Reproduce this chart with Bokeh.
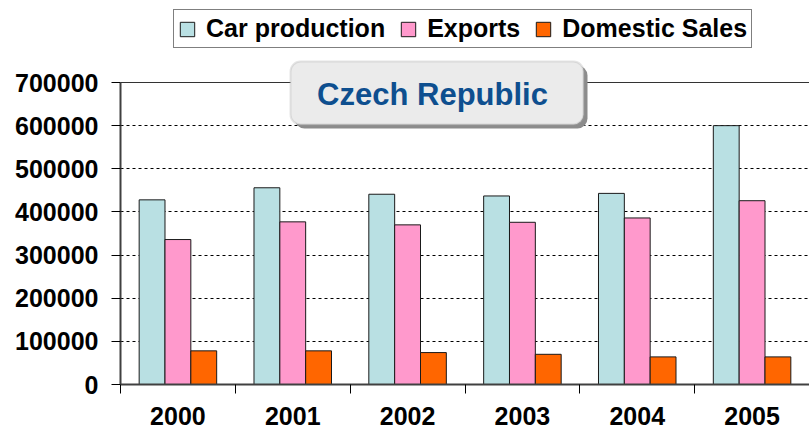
from bokeh.plotting import figure
from bokeh.models import (ColumnDataSource, FixedTicker, Legend, LegendItem, Label, Span,
                          Range1d, NumeralTickFormatter, BoxAnnotation)
from bokeh.transform import dodge
from bokeh.embed import file_html
from bokeh.resources import INLINE

# ---- data ----
years = ["2000", "2001", "2002", "2003", "2004", "2005"]
car_production = [428000, 456000, 441000, 437000, 443000, 600000]
exports = [336000, 377000, 370000, 376000, 386000, 426000]
domestic_sales = [78000, 78000, 74000, 70000, 64000, 64000]
series_names = ["Car production", "Exports", "Domestic Sales"]
series_colors = ["#B9E0E3", "#FF99CC", "#FF6600"]
y_ticks = [0, 100000, 200000, 300000, 400000, 500000, 600000, 700000]
title_text = "Czech Republic"

FONT = "Liberation Sans"
W, H = 809, 435
BL, BT, BB, BR = 120, 0, 51, 0
frame_h = H - BT - BB          # frame spans from top of figure to the x axis
top_tick_px = 82               # pixel row of the highest tick (from the figure top)
y_end = y_ticks[-1] * frame_h / (frame_h - top_tick_px)

centers = [i + 0.5 for i in range(len(years))]
src = ColumnDataSource(dict(x=centers, car=car_production, exp=exports, dom=domestic_sales))

p = figure(width=W, height=H, output_backend="svg", toolbar_location=None,
           x_range=Range1d(0, len(years)), y_range=Range1d(y_ticks[0], y_end),
           min_border_left=BL, min_border_right=BR, min_border_top=BT, min_border_bottom=BB)
p.background_fill_color = "white"
p.border_fill_color = "white"
p.outline_line_color = None

# grid
p.xgrid.visible = False
p.ygrid.ticker = FixedTicker(ticks=y_ticks)
p.ygrid.grid_line_color = "black"
p.ygrid.grid_line_dash = "3 3"
p.ygrid.grid_line_width = 1
p.add_layout(Span(location=y_ticks[-1], dimension="width", line_color="#333333", line_width=1))

# bars
bw = 0.225
cols = ["car", "exp", "dom"]
offsets = [-bw, 0, bw]
renderers = []
for c, off, col in zip(cols, offsets, series_colors):
    r = p.vbar(x=dodge("x", off), top=c, width=bw, source=src,
               fill_color=col, line_color="#1a1a1a", line_width=1)
    renderers.append(r)

# y axis
ya = p.yaxis[0]
ya.ticker = FixedTicker(ticks=y_ticks)
ya.bounds = (y_ticks[0], y_ticks[-1])
ya.formatter = NumeralTickFormatter(format="0")
ya.axis_line_color = "#404040"
ya.axis_line_width = 2
ya.major_tick_out = 9
ya.major_tick_in = 0
ya.major_tick_line_color = "black"
ya.minor_tick_line_color = None
ya.major_label_standoff = 13
ya.major_label_text_font = FONT
ya.major_label_text_font_style = "bold"
ya.major_label_text_font_size = "25px"
ya.major_label_text_color = "black"

# x axis
xa = p.xaxis[0]
xa.ticker = FixedTicker(ticks=centers, minor_ticks=list(range(len(years) + 1)))
xa.major_label_overrides = {c: y for c, y in zip(centers, years)}
xa.axis_line_color = "#404040"
xa.axis_line_width = 2
xa.major_tick_out = 0
xa.major_tick_in = 0
xa.minor_tick_out = 9
xa.minor_tick_in = 0
xa.minor_tick_line_color = "black"
xa.major_label_standoff = 13
xa.major_label_text_font = FONT
xa.major_label_text_font_style = "bold"
xa.major_label_text_font_size = "25px"
xa.major_label_text_color = "black"

# legend (inside the upper, empty part of the frame)
legend = Legend(items=[LegendItem(label=n, renderers=[r]) for n, r in zip(series_names, renderers)],
                orientation="horizontal", location=(53, frame_h - 48))
legend.border_line_color = "black"
legend.border_line_width = 1
legend.background_fill_color = "white"
legend.background_fill_alpha = 1
legend.padding = 4
legend.spacing = 14
legend.label_standoff = 10
legend.glyph_width = 18
legend.glyph_height = 18
legend.label_text_font = FONT
legend.label_text_font_style = "bold"
legend.label_text_font_size = "25px"
legend.label_text_color = "black"
legend.margin = 0
p.add_layout(legend, "center")

# title box with shadow (screen units, relative to frame bottom-left)
bl, br, bt, bb = 170, 463, frame_h - 61, frame_h - 124
shadow = BoxAnnotation(left=bl + 4, right=br + 4, top=bt - 4, bottom=bb - 4,
                       left_units="screen", right_units="screen",
                       top_units="screen", bottom_units="screen",
                       fill_color="#8C8C8C", fill_alpha=1, line_color=None, border_radius=10)
box = BoxAnnotation(left=bl, right=br, top=bt, bottom=bb,
                    left_units="screen", right_units="screen",
                    top_units="screen", bottom_units="screen",
                    fill_color="#EBEBEB", fill_alpha=1, line_color="#A8A8A8", line_width=2,
                    border_radius=10)
title = Label(x=312, y=frame_h - 94, x_units="screen", y_units="screen", text=title_text,
              text_font=FONT, text_font_style="bold", text_font_size="31px",
              text_align="center", text_baseline="alphabetic", text_color="#0E4F8F")
p.add_layout(shadow)
p.add_layout(box)
p.add_layout(title)

open("out.html", "w").write(file_html(p, INLINE))
